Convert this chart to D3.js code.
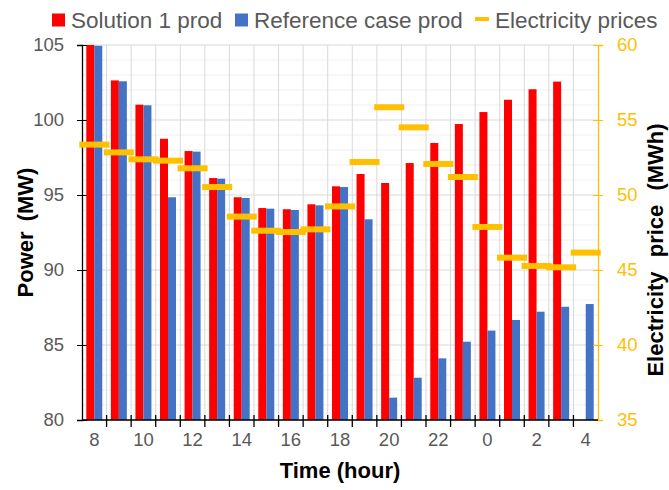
<!DOCTYPE html>
<html>
<head>
<meta charset="utf-8">
<script src="https://cdn.jsdelivr.net/npm/d3@7"></script>
<style>
  body { margin: 0; background: #fff; }
  svg { font-family: 'Liberation Sans', Arial, sans-serif; }
</style>
</head>
<body>
<svg id="chart" width="669" height="490"></svg>
<script>
// hours of the day shown on the x axis
var hours = [8, 9, 10, 11, 12, 13, 14, 15, 16, 17, 18, 19, 20, 21, 22, 23, 0, 1, 2, 3, 4]
// production series (MW)
var solutionProd = [105.0, 102.64, 101.02, 98.75, 97.93, 96.13, 94.85, 94.13, 94.05, 94.38, 95.58,
  96.4, 95.8, 97.13, 98.47, 99.73, 100.53, 101.35, 102.05, 102.56, null]
var referenceProd = [104.95, 102.58, 100.98, 94.85, 97.89, 96.09, 94.8, 94.09, 94.0, 94.31, 95.53,
  93.38, 81.49, 82.82, 84.11, 85.22, 85.96, 86.67, 87.22, 87.55, 87.73]
// electricity prices (right axis)
var prices = [53.36, 52.84, 52.38, 52.29, 51.78, 50.53, 48.56, 47.62, 47.53, 47.71, 49.24,
  52.2, 55.85, 54.51, 52.07, 51.2, 47.87, 45.82, 45.27, 45.18, 46.16]
var powerTicks = [80, 85, 90, 95, 100, 105]
var priceTicks = [35, 40, 45, 50, 55, 60]
var seriesNames = ['Solution 1 prod', 'Reference case prod', 'Electricity prices']

var red = '#FF0000'
var blue = '#4472C4'
var yellow = '#FFC000'
var grey = '#595959'

var svg = d3.select('#chart')
var margin = {top: 45, right: 71, bottom: 70, left: 82}
var width = 669 - margin.left - margin.right
var height = 490 - margin.top - margin.bottom

var g = svg.append('g')
  .attr('transform', 'translate(' + margin.left + ',' + margin.top + ')')

// scales
var x = d3.scaleBand().domain(hours).range([0, width]).padding(0)
var x1 = d3.scaleBand().domain(['sol', 'ref']).range([0, x.bandwidth()])
  .paddingInner(0).paddingOuter(0.536)
var y = d3.scaleLinear().domain([80, 105]).range([height, 0])
var y2 = d3.scaleLinear().domain([35, 60]).range([height, 0])

// minor horizontal grid
g.append('g').selectAll('line')
  .data(d3.range(80, 106, 1).filter((v) => v % 5 !== 0))
  .join('line')
  .attr('x1', 0).attr('x2', width)
  .attr('y1', (d) => y(d)).attr('y2', (d) => y(d))
  .attr('stroke', '#EFEFEF').attr('stroke-width', 1)

// major horizontal grid
g.append('g').selectAll('line')
  .data(powerTicks)
  .join('line')
  .attr('x1', 0).attr('x2', width)
  .attr('y1', (d) => y(d)).attr('y2', (d) => y(d))
  .attr('stroke', '#D9D9D9').attr('stroke-width', 1)

// vertical grid at category boundaries
g.append('g').selectAll('line')
  .data(hours.slice(1))
  .join('line')
  .attr('x1', (d) => x(d)).attr('x2', (d) => x(d))
  .attr('y1', 0).attr('y2', height)
  .attr('stroke', '#D9D9D9').attr('stroke-width', 1)

// clip bars to plot area
svg.append('clipPath').attr('id', 'plotclip')
  .append('rect').attr('x', 0).attr('y', 0).attr('width', width).attr('height', height)

var bars = g.append('g').attr('clip-path', 'url(#plotclip)')

bars.selectAll('rect.sol')
  .data(hours.map((h, i) => ({h: h, v: solutionProd[i]})).filter((d) => d.v != null))
  .join('rect')
  .attr('class', 'sol')
  .attr('x', (d) => x(d.h) + x1('sol'))
  .attr('width', x1.bandwidth())
  .attr('y', (d) => y(d.v))
  .attr('height', (d) => height - y(d.v))
  .attr('fill', red)

bars.selectAll('rect.ref')
  .data(hours.map((h, i) => ({h: h, v: referenceProd[i]})).filter((d) => d.v != null))
  .join('rect')
  .attr('class', 'ref')
  .attr('x', (d) => x(d.h) + x1('ref'))
  .attr('width', x1.bandwidth())
  .attr('y', (d) => y(d.v))
  .attr('height', (d) => height - y(d.v))
  .attr('fill', blue)

// left axis
var yAxis = g.append('g')
  .call(d3.axisLeft(y).tickValues(powerTicks).tickSize(5).tickPadding(13))
yAxis.select('.domain').attr('stroke', '#000').attr('stroke-width', 1.3)
yAxis.selectAll('.tick line').attr('stroke', '#000').attr('x2', 5).attr('x1', -5)
yAxis.selectAll('.tick text')
  .attr('fill', grey).attr('font-size', '18.5px')
  .attr('font-family', "'Liberation Sans', Arial, sans-serif")

// right axis
var y2Axis = g.append('g')
  .attr('transform', 'translate(' + width + ',0)')
  .call(d3.axisRight(y2).tickValues(priceTicks).tickSize(5).tickPadding(14))
y2Axis.select('.domain').attr('stroke', yellow).attr('stroke-width', 1.3)
y2Axis.selectAll('.tick line').attr('stroke', yellow).attr('x1', -5).attr('x2', 5)
y2Axis.selectAll('.tick text')
  .attr('fill', yellow).attr('font-size', '18.5px')
  .attr('font-family', "'Liberation Sans', Arial, sans-serif")

// bottom axis: labels on every other hour, ticks at category boundaries
var xAxis = g.append('g')
  .attr('transform', 'translate(0,' + height + ')')
  .call(d3.axisBottom(x).tickValues(hours.filter((d, i) => i % 2 === 0)).tickSize(0).tickPadding(13))
xAxis.select('.domain').remove()
xAxis.selectAll('.tick text')
  .attr('fill', grey).attr('font-size', '18.5px')
  .attr('font-family', "'Liberation Sans', Arial, sans-serif")
xAxis.append('g').selectAll('line')
  .data(hours.slice(1))
  .join('line')
  .attr('x1', (d) => x(d)).attr('x2', (d) => x(d))
  .attr('y1', -5).attr('y2', 7)
  .attr('stroke', '#000').attr('stroke-width', 1.3)
xAxis.append('line')
  .attr('x1', 0).attr('x2', width)
  .attr('stroke', '#000').attr('stroke-width', 1.3)

// price markers (dash shape)
g.append('g').selectAll('rect')
  .data(hours.map((h, i) => ({h: h, v: prices[i]})))
  .join('rect')
  .attr('x', (d) => x(d.h) + x.bandwidth() / 2 - 15)
  .attr('y', (d) => y2(d.v) - 3)
  .attr('width', 30)
  .attr('height', 6)
  .attr('fill', yellow)

// axis titles
svg.append('text')
  .attr('transform', 'translate(' + 33 + ',' + (margin.top + height / 2) + ') rotate(-90)')
  .attr('text-anchor', 'middle')
  .attr('font-size', '22px').attr('font-weight', 'bold').attr('fill', '#000')
  .style('word-spacing', '4px')
  .text('Power (MW)')

svg.append('text')
  .attr('transform', 'translate(' + 663 + ',' + 250 + ') rotate(-90)')
  .attr('text-anchor', 'middle')
  .attr('font-size', '22px').attr('font-weight', 'bold').attr('fill', '#000')
  .style('word-spacing', '8px')
  .text('Electricity price (MWh)')

svg.append('text')
  .attr('x', margin.left + width / 2)
  .attr('y', 478)
  .attr('text-anchor', 'middle')
  .attr('font-size', '22px').attr('font-weight', 'bold').attr('fill', '#000')
  .text('Time (hour)')

// legend
var legend = svg.append('g')
var legendX = [52, 235, 475]
var legendColors = [red, blue, yellow]
seriesNames.forEach(function (name, i) {
  if (i < 2) {
    legend.append('rect')
      .attr('x', legendX[i]).attr('y', 13.5)
      .attr('width', 13).attr('height', 13)
      .attr('fill', legendColors[i])
  } else {
    legend.append('rect')
      .attr('x', legendX[i]).attr('y', 17)
      .attr('width', 14).attr('height', 4)
      .attr('fill', legendColors[i])
  }
  legend.append('text')
    .attr('x', legendX[i] + (i < 2 ? 19 : 20))
    .attr('y', 27.5)
    .attr('font-size', '22.5px')
    .attr('fill', grey)
    .text(name)
})
</script>
</body>
</html>
